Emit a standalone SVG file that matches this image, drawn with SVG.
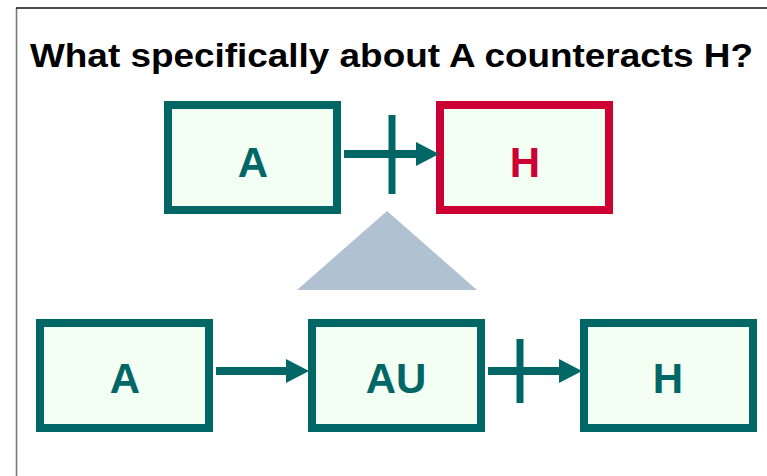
<svg xmlns="http://www.w3.org/2000/svg" width="767" height="476" viewBox="0 0 767 476">
  <style>
    .box { fill: #F4FFF4; stroke-width: 8; }
    .teal { stroke: #006666; }
    .red { stroke: #CC0033; }
    .lbl { font-family: "Liberation Sans", Arial, sans-serif; font-weight: bold; font-size: 42px; text-anchor: middle; }
    .lbl.t { fill: #006666; }
    .lbl.r { fill: #CC0033; }
    .edge { stroke: #006666; stroke-width: 8; fill: none; marker-end: url(#head); }
    .bar { stroke: #006666; stroke-width: 7; }
  </style>
  <defs>
    <marker id="head" markerUnits="userSpaceOnUse" markerWidth="24" markerHeight="24" refX="4" refY="12" orient="auto">
      <path d="M0,0 L23,12 L0,24 z" fill="#006666"/>
    </marker>
  </defs>

  <rect width="767" height="476" fill="#FFFFFF"/>
  <!-- frame lines -->
  <line x1="16.5" y1="8" x2="16.5" y2="476" stroke="#777777" stroke-width="1.6"/>
  <line x1="16" y1="8" x2="767" y2="8" stroke="#111111" stroke-width="1.3"/>

  <text x="391.5" y="67" font-family="Liberation Sans, Arial, sans-serif" font-weight="bold" font-size="33.5" textLength="723" lengthAdjust="spacingAndGlyphs" text-anchor="middle" fill="#000000">What specifically about A counteracts H?</text>

  <!-- top row -->
  <g id="topA">
    <rect class="box teal" x="168" y="105" width="169" height="105"/>
    <text class="lbl t" x="253" y="177">A</text>
  </g>
  <g id="topH">
    <rect class="box red" x="440" y="105" width="169" height="105"/>
    <text class="lbl r" x="525" y="177">H</text>
  </g>

  <!-- expansion triangle -->
  <g id="expand">
    <polygon points="387,211 297,290 477,290" fill="#B0C2D2"/>
  </g>

  <!-- bottom row -->
  <g id="botA">
    <rect class="box teal" x="40" y="323" width="169" height="105"/>
    <text class="lbl t" x="125" y="393">A</text>
  </g>
  <g id="botAU">
    <rect class="box teal" x="312" y="323" width="169" height="105"/>
    <text class="lbl t" x="396" y="393">AU</text>
  </g>
  <g id="botH">
    <rect class="box teal" x="584" y="323" width="169" height="105"/>
    <text class="lbl t" x="668" y="393">H</text>
  </g>

  <g id="connectors">
    <line class="edge" x1="344" y1="154" x2="420" y2="154"/>
    <line class="bar" x1="392" y1="115" x2="392" y2="194"/>
    <line class="edge" x1="216" y1="371" x2="290" y2="371"/>
    <line class="edge" x1="488" y1="371" x2="563" y2="371"/>
    <line class="bar" x1="520" y1="339" x2="520" y2="403"/>
  </g>
</svg>
